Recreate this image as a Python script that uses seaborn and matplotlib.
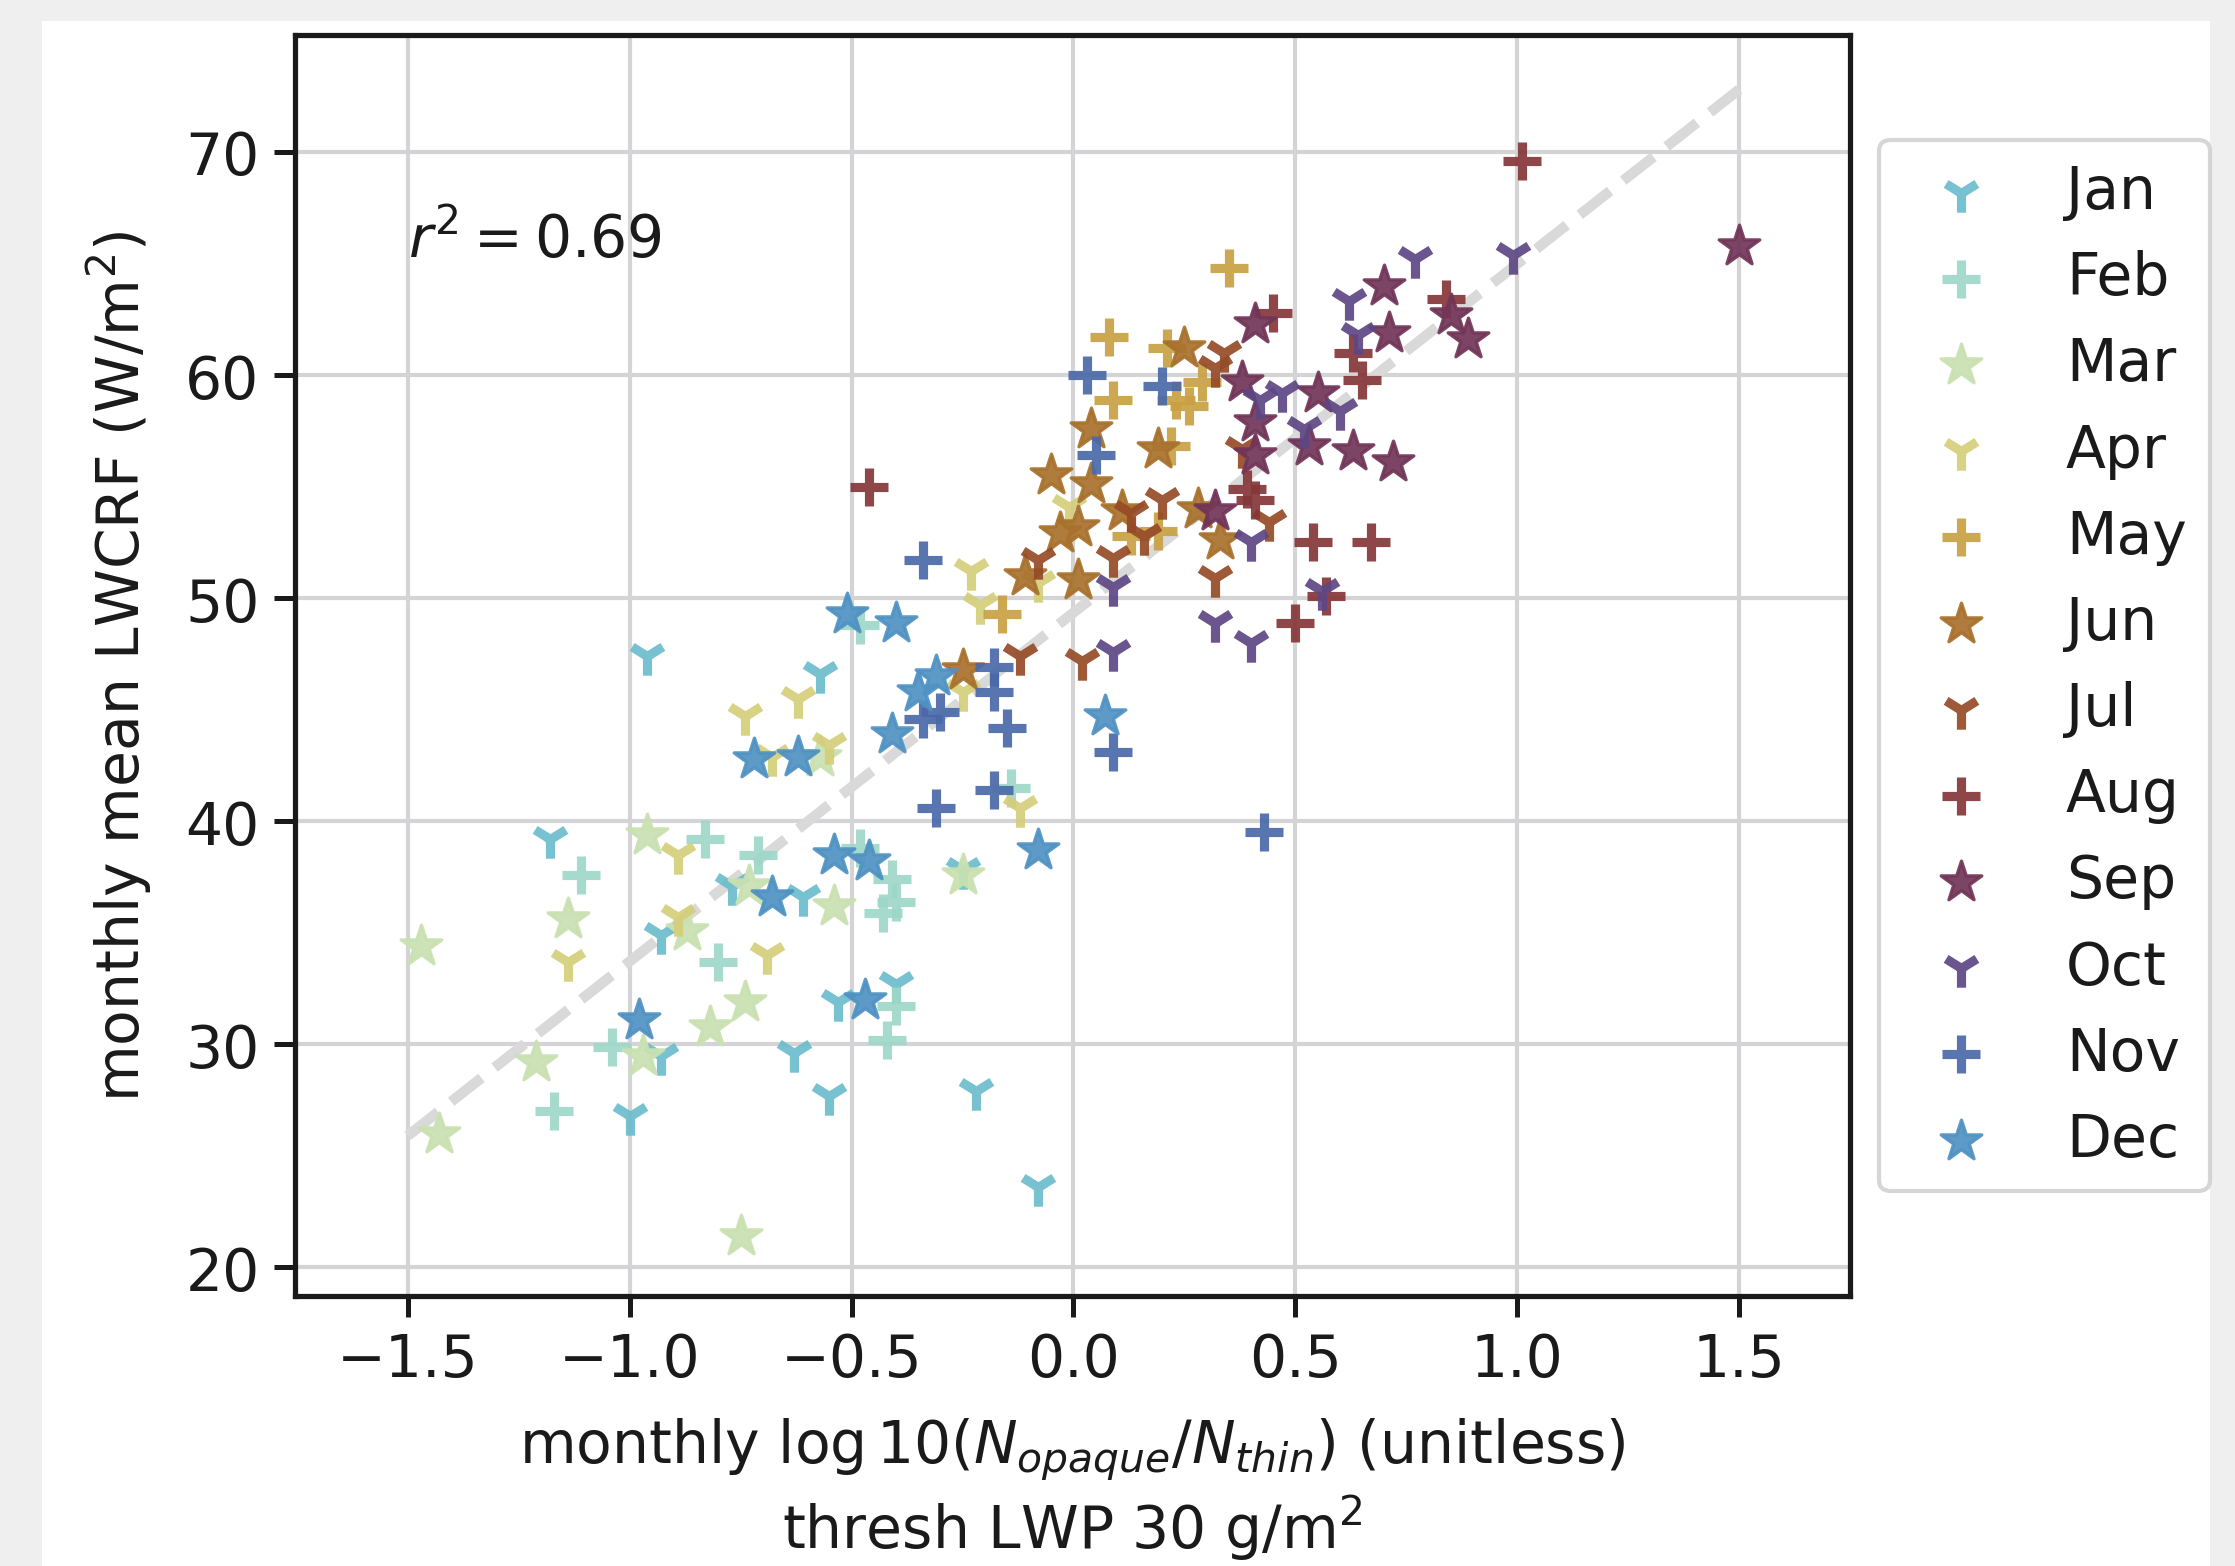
import matplotlib
matplotlib.use("Agg")
import matplotlib.pyplot as plt
from matplotlib.patches import Rectangle
import seaborn as sns

# monthly points (x = log10(N_opaque/N_thin), y = LWCRF)
jan_x = [-0.96, -0.57, -1.18, -0.77, -0.61, -0.93, -0.93, -1.00, -0.63, -0.55, -0.53, -0.40, -0.22, -0.08, -0.25]
jan_y = [47.4, 46.6, 39.2, 37.1, 36.6, 34.9, 29.5, 26.8, 29.6, 27.7, 31.9, 32.7, 27.9, 23.6, 37.8]
feb_x = [-1.11, -1.17, -1.04, -0.83, -0.80, -0.71, -0.48, -0.41, -0.40, -0.43, -0.40, -0.42, -0.14, -0.48]
feb_y = [37.6, 27.0, 29.9, 39.2, 33.7, 38.5, 38.8, 37.4, 36.4, 35.9, 31.7, 30.2, 41.5, 48.8]
mar_x = [-1.47, -1.14, -0.96, -0.73, -0.87, -0.54, -0.74, -0.82, -0.97, -1.21, -1.43, -0.75, -0.25, -0.57]
mar_y = [34.4, 35.6, 39.4, 37.1, 35.1, 36.2, 31.9, 30.8, 29.5, 29.2, 26.0, 21.4, 37.6, 42.9]
apr_x = [-0.89, -1.14, -0.89, -0.69, -0.74, -0.62, -0.68, -0.55, -0.23, -0.21, -0.25, -0.12, -0.01, -0.08]
apr_y = [38.5, 33.7, 35.7, 34.0, 44.7, 45.5, 42.9, 43.4, 51.2, 49.7, 45.8, 40.6, 54.1, 50.7]
may_x = [0.35, 0.08, 0.09, 0.21, 0.26, 0.29, 0.23, 0.22, 0.13, 0.19, -0.16]
may_y = [64.8, 61.7, 58.9, 61.2, 58.6, 59.7, 58.9, 56.8, 52.8, 53.0, 49.3]
jun_x = [0.25, 0.04, 0.19, 0.04, -0.05, 0.01, -0.03, 0.01, 0.28, 0.33, 0.11, -0.11, -0.25]
jun_y = [61.2, 57.6, 56.7, 55.1, 55.5, 53.2, 52.9, 50.8, 54.0, 52.6, 53.9, 51.0, 46.8]
jul_x = [0.34, 0.32, 0.20, 0.13, 0.16, 0.09, 0.32, 0.02, 0.44, 0.38, -0.08, -0.12]
jul_y = [61.0, 60.3, 54.4, 53.8, 52.8, 51.8, 50.9, 47.2, 53.4, 56.7, 51.7, 47.4]
aug_x = [1.01, 0.84, 0.63, 0.65, 0.54, 0.67, 0.57, 0.45, 0.41, 0.39, 0.50, -0.46]
aug_y = [69.6, 63.4, 61.0, 59.8, 52.5, 52.5, 50.1, 62.8, 54.4, 54.9, 48.9, 55.0]
sep_x = [1.50, 0.70, 0.85, 0.89, 0.71, 0.55, 0.53, 0.63, 0.72, 0.41, 0.38, 0.41, 0.41, 0.32]
sep_y = [65.8, 64.0, 62.7, 61.6, 61.9, 59.2, 56.8, 56.6, 56.1, 62.3, 59.7, 57.9, 56.4, 53.9]
oct_x = [0.77, 0.99, 0.62, 0.64, 0.60, 0.56, 0.42, 0.47, 0.52, 0.40, 0.09, 0.32, 0.40, 0.09]
oct_y = [65.2, 65.4, 63.3, 61.8, 58.4, 50.3, 58.9, 59.2, 57.6, 52.5, 50.5, 48.9, 48.0, 47.6]
nov_x = [0.03, 0.20, 0.05, -0.34, -0.18, -0.18, -0.15, -0.34, -0.30, -0.18, -0.31, 0.09, 0.43]
nov_y = [60.0, 59.5, 56.4, 51.7, 46.9, 45.8, 44.2, 44.6, 44.9, 41.4, 40.6, 43.1, 39.5]
dec_x = [-0.51, -0.40, -0.72, -0.62, -0.41, -0.35, -0.31, -0.54, -0.46, -0.08, -0.68, -0.98, -0.47, 0.07]
dec_y = [49.3, 48.9, 42.8, 42.9, 43.9, 45.8, 46.5, 38.5, 38.2, 38.7, 36.6, 31.1, 32.0, 44.7]

months = ['Jan', 'Feb', 'Mar', 'Apr', 'May', 'Jun', 'Jul', 'Aug', 'Sep', 'Oct', 'Nov', 'Dec']
month_x = [jan_x, feb_x, mar_x, apr_x, may_x, jun_x, jul_x, aug_x, sep_x, oct_x, nov_x, dec_x]
month_y = [jan_y, feb_y, mar_y, apr_y, may_y, jun_y, jul_y, aug_y, sep_y, oct_y, nov_y, dec_y]
month_colors = ['#6bbccc', '#9dd7c8', '#c9e1b1', '#d5ce7b', '#c9a143', '#a8712c',
                '#954b27', '#853639', '#723558', '#5d4684', '#4a69a9', '#4f92c3']
month_markers = ['1', '+', '*'] * 4

# regression line end points and r^2
fit_x = [-1.5, 1.5]
fit_y = [25.9, 72.8]
r2_text = r'$r^2 = 0.69$'

sns.set_style("ticks", {"axes.grid": True, "grid.color": "#d4d4d6",
                        "axes.edgecolor": "#1a1a1a", "text.color": "#1a1a1a",
                        "axes.labelcolor": "#1a1a1a", "xtick.color": "#1a1a1a",
                        "ytick.color": "#1a1a1a"})
plt.rcParams['font.family'] = ['DejaVu Sans']
plt.rcParams['grid.linewidth'] = 1.0

fig = plt.figure(figsize=(7.45, 5.2233), dpi=300, facecolor='#efefef')
# white page inside the light grey screenshot border
fig.patches.append(Rectangle((0.019, 0), 0.97, 0.986, transform=fig.transFigure,
                             facecolor='white', edgecolor='none', zorder=-10))
ax = fig.add_axes([0.132, 0.1723, 0.6958, 0.8047])

sns.lineplot(x=fit_x, y=fit_y, color='#d9d9d9', linewidth=2.5, linestyle='--', ax=ax, zorder=2)

for name, xs, ys, col, mk in zip(months, month_x, month_y, month_colors, month_markers):
    if mk == '*':
        sns.scatterplot(x=xs, y=ys, color=col, marker=mk, s=105, linewidth=0.8,
                        edgecolor=col, alpha=0.92, label=name, ax=ax, zorder=3)
    else:
        sns.scatterplot(x=xs, y=ys, color=col, marker=mk, s=85, linewidth=2.2,
                        alpha=0.92, label=name, ax=ax, zorder=3)

ax.text(-1.5, 65.3, r2_text, fontsize=14)

ax.set_xlim(-1.754, 1.75)
ax.set_ylim(18.72, 75.24)
ax.set_xticks([-1.5, -1.0, -0.5, 0.0, 0.5, 1.0, 1.5])
ax.set_yticks([20, 30, 40, 50, 60, 70])
ax.tick_params(labelsize=14, length=5, width=1.2, color='#1a1a1a')
for sp in ax.spines.values():
    sp.set_linewidth(1.25)

ax.set_xlabel('monthly $\\log 10(N_{opaque}/N_{thin})$ (unitless)\nthresh LWP 30 g/m$^2$',
              fontsize=14, labelpad=6.5)
ax.set_ylabel('monthly mean LWCRF (W/m$^2$)', fontsize=14, labelpad=7.5)

ax.legend(loc='center left', bbox_to_anchor=(1.0, 0.5), fontsize=14, frameon=True)

fig.savefig('out.png', dpi=300, facecolor=fig.get_facecolor())
